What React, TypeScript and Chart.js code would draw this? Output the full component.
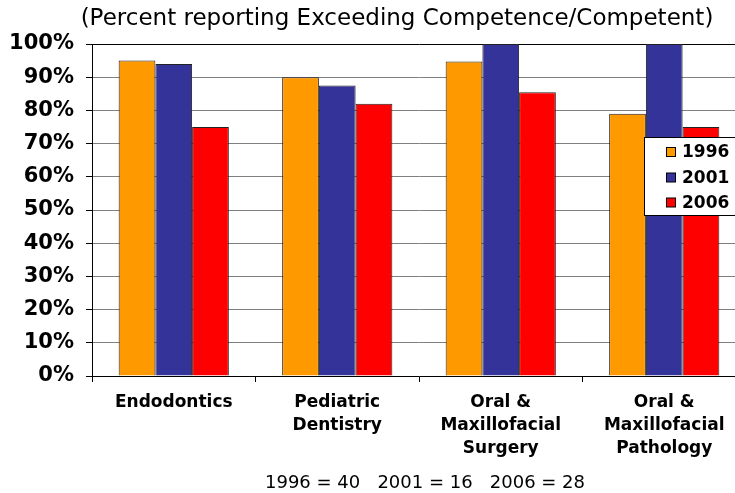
import React, { useEffect, useRef } from "react";
import { Chart, registerables } from "chart.js";

Chart.register(...registerables);

const categories: (string | string[])[] = [
  "Endodontics",
  ["Pediatric", "Dentistry"],
  ["Oral &", "Maxillofacial", "Surgery"],
  ["Oral &", "Maxillofacial", "Pathology"],
];
const seriesLabels = ["1996", "2001", "2006"];
const values1996 = [95, 90, 94.7, 79];
const values2001 = [94, 87.5, 100, 100];
const values2006 = [75, 82, 85.5, 75];
const seriesColors = ["#FF9900", "#333399", "#FF0000"];
const titleText = "(Percent reporting Exceeding Competence/Competent)";
const footerText = "1996 = 40   2001 = 16   2006 = 28";

const CANVAS_W = 760;
const CANVAS_H = 493;

const overlayPlugin = {
  id: "overlay",
  afterDraw(chart: any) {
    const ctx = chart.ctx as CanvasRenderingContext2D;
    ctx.save();
    // title
    ctx.fillStyle = "#000";
    ctx.font = "23px 'DejaVu Sans'";
    ctx.textAlign = "center";
    ctx.textBaseline = "middle";
    ctx.fillText(titleText, 397, 19);
    // footer
    ctx.font = "18px 'DejaVu Sans'";
    ctx.fillText(footerText, 425, 483);
    // legend
    const lx = 644.5, ly = 137.5, lw = 120, lh = 78;
    ctx.fillStyle = "#fff";
    ctx.fillRect(lx, ly, lw, lh);
    ctx.strokeStyle = "#000";
    ctx.lineWidth = 1;
    ctx.strokeRect(lx, ly, lw, lh);
    ctx.font = "bold 17px 'DejaVu Sans'";
    ctx.textAlign = "left";
    const ds = chart.data.datasets;
    const rowsY = [152, 177.5, 202.5];
    ds.forEach((d: any, i: number) => {
      const y = rowsY[i];
      ctx.fillStyle = d.backgroundColor;
      ctx.fillRect(666.5, y - 4.5, 9, 9);
      ctx.strokeStyle = "#000";
      ctx.strokeRect(666.5, y - 4.5, 9, 9);
      ctx.fillStyle = "#000";
      ctx.fillText(d.label, 682, y + 1);
    });
    ctx.restore();
  },
};

export default function App() {
  const ref = useRef<HTMLCanvasElement | null>(null);
  useEffect(() => {
    if (!ref.current) return;
    const chart = new Chart(ref.current, {
      type: "bar",
      data: {
        labels: categories,
        datasets: [values1996, values2001, values2006].map((v, i) => ({
          label: seriesLabels[i],
          data: v,
          backgroundColor: seriesColors[i],
          borderColor: "#222",
          borderWidth: 1,
          categoryPercentage: 0.674,
          barPercentage: 1.0,
        })),
      },
      options: {
        responsive: false,
        animation: false,
        devicePixelRatio: 1,
        layout: { padding: { left: 0, right: CANVAS_W - 746, top: 44, bottom: 0 } },
        plugins: {
          legend: { display: false },
          title: { display: false },
          tooltip: { enabled: false },
        },
        scales: {
          x: {
            offset: true,
            grid: {
              offset: true,
              drawOnChartArea: false,
              drawTicks: true,
              tickLength: 6,
              tickColor: "#000",
            },
            border: { color: "#000", width: 1 },
            ticks: {
              color: "#000",
              font: { family: "'DejaVu Sans'", size: 17, weight: "bold", lineHeight: 1.35 },
              padding: 9,
              maxRotation: 0,
              autoSkip: false,
            },
            afterFit: (scale: any) => {
              scale.height = CANVAS_H - 376;
            },
          },
          y: {
            min: 0,
            max: 100,
            grid: {
              color: (c: any) => (c.tick && c.tick.value === 100 ? "#000" : "#808080"),
              tickColor: "#000",
              tickLength: 6,
            },
            border: { color: "#000", width: 1 },
            ticks: {
              stepSize: 10,
              color: "#000",
              padding: 12,
              font: { family: "'DejaVu Sans'", size: 21, weight: "bold" },
              callback: (v: any) => v + "%",
            },
            afterFit: (scale: any) => {
              scale.width = 92;
            },
          },
        },
      },
      plugins: [overlayPlugin],
    });
    return () => chart.destroy();
  }, []);
  return (
    <div style={{ position: "fixed", left: 0, top: 0, width: 735, height: 493, overflow: "hidden", background: "#fff" }}>
      <canvas ref={ref} width={CANVAS_W} height={CANVAS_H} style={{ display: "block" }} />
    </div>
  );
}
